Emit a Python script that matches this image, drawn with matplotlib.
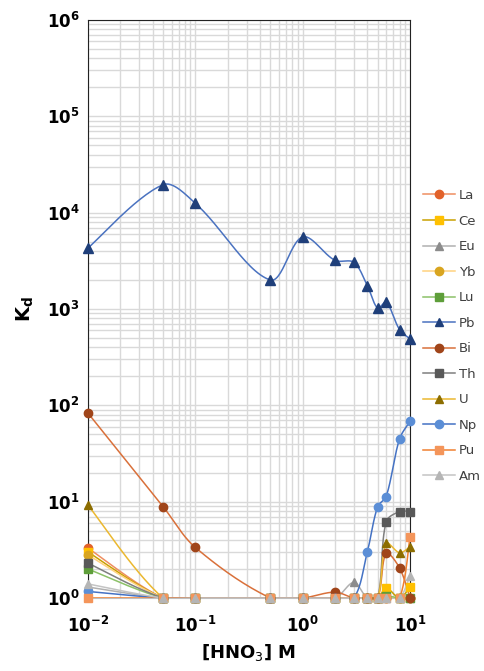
import numpy as np
import matplotlib.pyplot as plt

# [HNO3] concentrations (M)
hno3 = [0.01, 0.05, 0.1, 0.5, 1, 2, 3, 4, 5, 6, 8, 10]

# Kd values
la = [3.3, 1, 1, 1, 1, 1, 1, 1, 1, 1, 1, 1]
ce = [3.0, 1, 1, 1, 1, 1, 1, 1, 1, 1.27, 1, 1.3]
eu = [1.3, 1, 1, 1, 1, 1, 1.45, 1, 1, 1, 1, 1]
yb = [2.8, 1, 1, 1, 1, 1, 1, 1, 1, 1, 1, 1]
lu = [2.0, 1, 1, 1, 1, 1, 1, 1, 1, 1.05, 1, 1]
pb = [4300, 19500, 12500, 2000, 5600, 3200, 3050, 1750, 1020, 1180, 610, 490]
bi = [83, 8.9, 3.35, 1, 1, 1.15, 1, 1, 1, 2.9, 2.05, 1]
th = [2.3, 1, 1, 1, 1, 1, 1, 1, 1, 6.2, 7.9, 7.9]
u = [9.2, 1, 1, 1, 1, 1, 1, 1, 1, 3.7, 2.95, 3.4]
np_ = [1.17, 1, 1, 1, 1, 1, 1, 3.0, 8.9, 11.3, 45, 68]
pu = [1, 1, 1, 1, 1, 1, 1, 1, 1, 1, 1, 4.3]
am = [1.4, 1, 1, 1, 1, 1, 1, 1, 1, 1, 1, 1.7]

labels = ['La', 'Ce', 'Eu', 'Yb', 'Lu', 'Pb', 'Bi', 'Th', 'U', 'Np', 'Pu', 'Am']
values = [la, ce, eu, yb, lu, pb, bi, th, u, np_, pu, am]
markers = ['o', 's', '^', 'o', 's', '^', 'o', 's', '^', 'o', 's', '^']
mcolors = ['#E2622A', '#FFC000', '#8C8C8C', '#D9A520', '#5E9E3A', '#1F3F7A',
           '#A0451A', '#595959', '#8C6D00', '#5B8ED6', '#F4955A', '#B5B5B5']
lcolors = ['#EF8E60', '#C9A000', '#B0B0B0', '#FFD27F', '#8CC168', '#4A72C0',
           '#D9703A', '#7F7F7F', '#EBB830', '#4472C4', '#F08030', '#C4C4C4']


def smooth(x, y, n=30):
    """Smoothed line through the points (Bezier in log-log pixel space)."""
    p = np.column_stack([np.log10(x) * 107, np.log10(y) * 96])
    d = np.hypot(*np.diff(p, axis=0).T) + 1e-9
    pts = []
    for i in range(len(p) - 1):
        p0 = p[max(i - 1, 0)]
        p1, p2 = p[i], p[i + 1]
        p3 = p[min(i + 2, len(p) - 1)]
        d01 = d[i - 1] if i > 0 else d[i]
        d23 = d[i + 1] if i + 1 < len(d) else d[i]
        c1 = p1 + (p2 - p0) * d[i] / (3 * (d01 + d[i]))
        c2 = p2 - (p3 - p1) * d[i] / (3 * (d[i] + d23))
        t = np.linspace(0, 1, n)[:, None]
        seg = ((1 - t) ** 3 * p1 + 3 * (1 - t) ** 2 * t * c1
               + 3 * (1 - t) * t ** 2 * c2 + t ** 3 * p2)
        pts.append(seg)
    pts = np.vstack(pts)
    return 10 ** (pts[:, 0] / 107), 10 ** (pts[:, 1] / 96)


fig = plt.figure(figsize=(4.85, 6.71), dpi=100)
ax = fig.add_axes([88 / 485, 1 - 598 / 671, 322 / 485, 578 / 671])

handles = []
for y, lab, m, mc, lc in zip(values, labels, markers, mcolors, lcolors):
    sx, sy = smooth(hno3, y)
    ax.plot(sx, sy, color=lc, lw=1.1, zorder=3)
    ms = 7 if lab == 'Pb' else 6
    ax.plot(hno3, y, ls='none', marker=m, color=mc, ms=ms, clip_on=False,
            zorder=4)
    h, = ax.plot([], [], color=lc, lw=1.1, marker=m, mfc=mc, mec=mc, ms=6)
    handles.append(h)

ax.set_xscale('log')
ax.set_yscale('log')
ax.set_xlim(0.01, 10)
ax.set_ylim(1, 1e6)
ax.grid(which='both', color='#D9D9D9', lw=1)
ax.set_axisbelow(True)
ax.tick_params(which='both', length=0, labelsize=12)
ax.tick_params(axis='x', pad=13)
ax.tick_params(axis='y', pad=6)
for lbl in ax.get_xticklabels() + ax.get_yticklabels():
    lbl.set_fontweight('bold')
for s in ['left', 'right', 'top']:
    ax.spines[s].set_color('#222222')
ax.spines['bottom'].set_color('#BFBFBF')

ax.set_xlabel('[HNO$_3$] M', fontsize=13, fontweight='bold', labelpad=4)
ax.set_ylabel('K$_\\mathbf{d}$', fontsize=14, fontweight='bold', labelpad=8)

leg = fig.legend(handles, labels, loc='center left',
                 bbox_to_anchor=(423 / 485, 1 - 336 / 671),
                 frameon=False, fontsize=9.5, handlelength=2.4,
                 labelspacing=0.95, handletextpad=0.3,
                 borderaxespad=0, borderpad=0)
for t in leg.get_texts():
    t.set_color('#404040')

plt.savefig('out.png', dpi=100)
